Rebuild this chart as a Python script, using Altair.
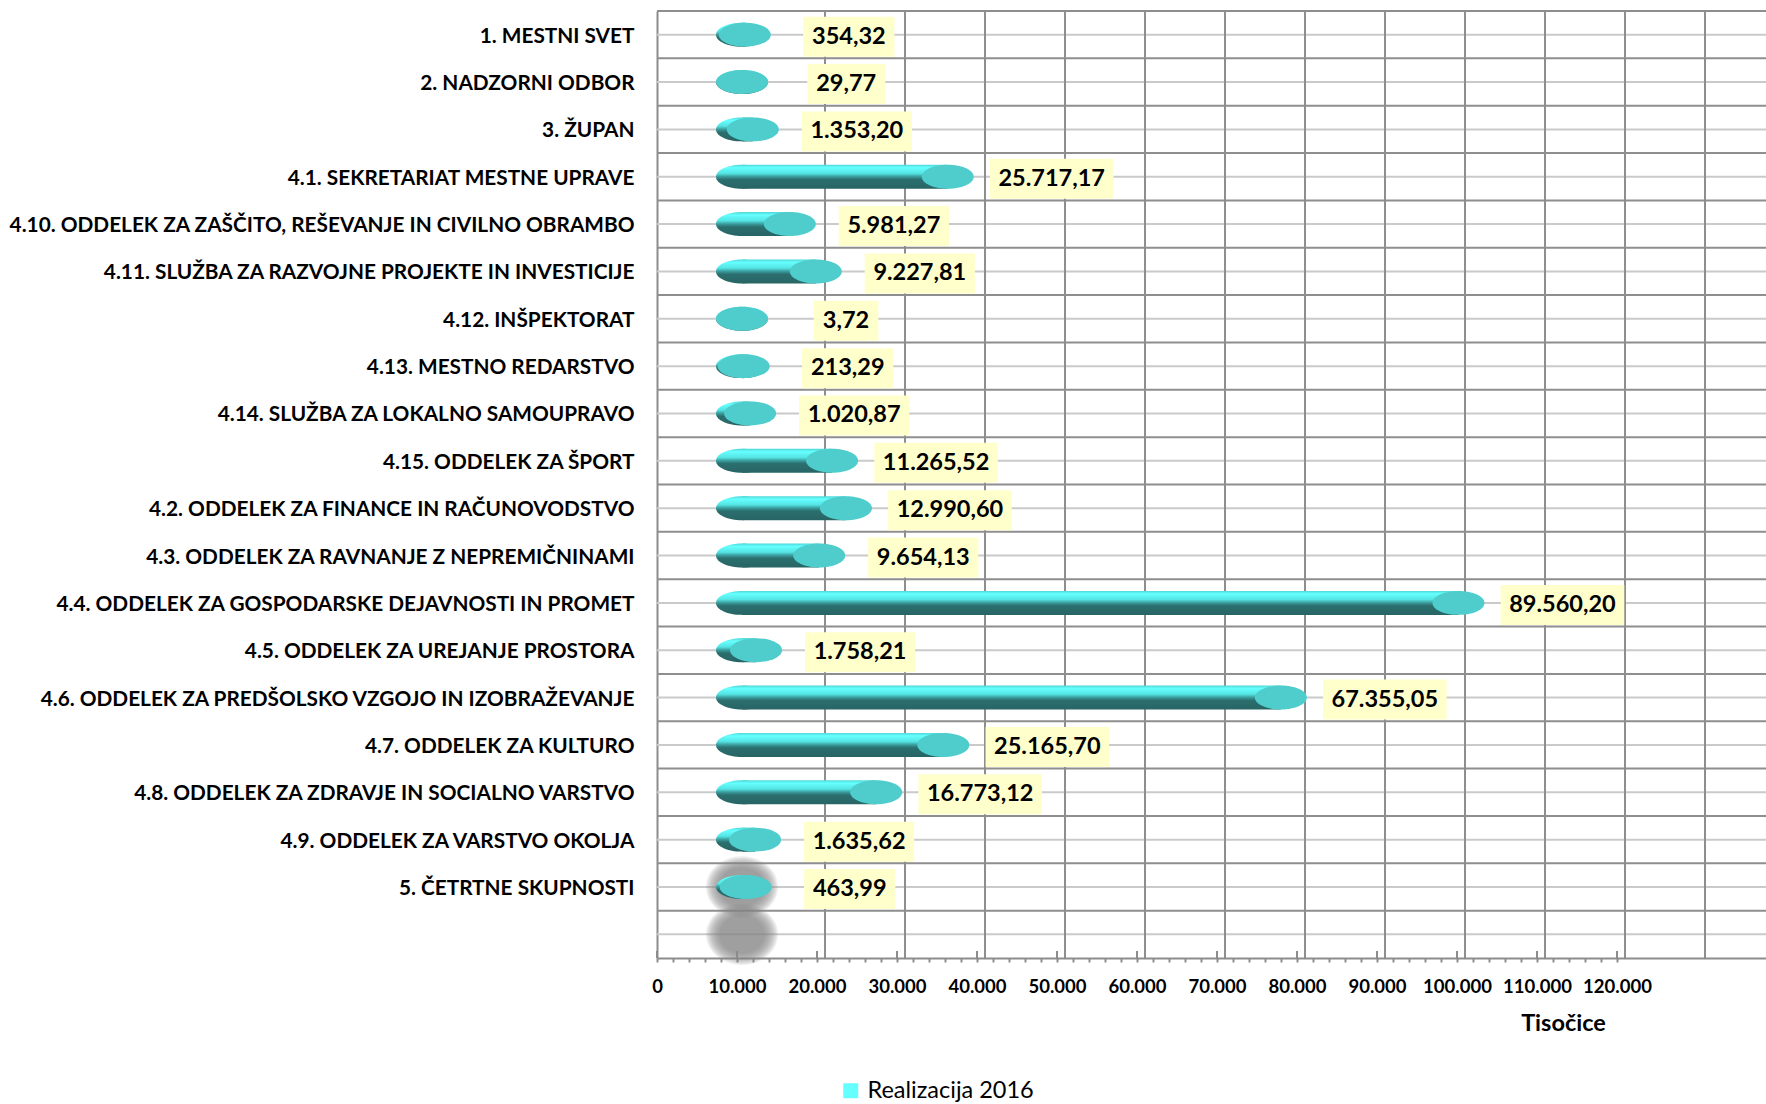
import altair as alt
import pandas as pd

# ---------------- data ----------------
categories = [
    "1. MESTNI SVET",
    "2. NADZORNI ODBOR",
    "3. ŽUPAN",
    "4.1. SEKRETARIAT MESTNE UPRAVE",
    "4.10. ODDELEK ZA ZAŠČITO, REŠEVANJE IN CIVILNO OBRAMBO",
    "4.11. SLUŽBA ZA RAZVOJNE PROJEKTE IN INVESTICIJE",
    "4.12. INŠPEKTORAT",
    "4.13. MESTNO REDARSTVO",
    "4.14. SLUŽBA ZA LOKALNO SAMOUPRAVO",
    "4.15. ODDELEK ZA ŠPORT",
    "4.2. ODDELEK ZA FINANCE IN RAČUNOVODSTVO",
    "4.3. ODDELEK ZA RAVNANJE Z NEPREMIČNINAMI",
    "4.4. ODDELEK ZA GOSPODARSKE DEJAVNOSTI IN PROMET",
    "4.5. ODDELEK ZA UREJANJE PROSTORA",
    "4.6. ODDELEK ZA PREDŠOLSKO VZGOJO IN IZOBRAŽEVANJE",
    "4.7. ODDELEK ZA KULTURO",
    "4.8. ODDELEK ZA ZDRAVJE IN SOCIALNO VARSTVO",
    "4.9. ODDELEK ZA VARSTVO OKOLJA",
    "5. ČETRTNE SKUPNOSTI ",
]
values = [
    354.32, 29.77, 1353.20, 25717.17, 5981.27, 9227.81, 3.72, 213.29,
    1020.87, 11265.52, 12990.60, 9654.13, 89560.20, 1758.21, 67355.05,
    25165.70, 16773.12, 1635.62, 463.99,
]
series_name = "Realizacija 2016"
blank_row = " "
x_ticks = list(range(0, 120001, 2000))
x_major = list(range(0, 120001, 10000))
x_grid = list(range(21000, 131001, 10000))
shadow_rows = [categories[-1], blank_row]

# ---------------- layout constants ----------------
W = 1109
ROWS = len(categories) + 1
BAND = 47.35
H = ROWS * BAND
DMAX = 138625
UPP = DMAX / W          # data units per pixel
ZERO_OFF = 85           # 3D depth shift of the cylinders (px)
LABEL_OFF = 104         # label centre after the cylinder end (px)


def slo(v):
    s = f"{v:,.2f}"
    return s.replace(",", "X").replace(".", ",").replace("X", ".")


df = pd.DataFrame({"cat": categories, "value": values,
                   "label": [slo(v) for v in values]})
rows_df = pd.DataFrame({"cat": categories + [blank_row]})
grid_df = pd.DataFrame({"gx": x_grid})
major_df = pd.DataFrame({"tx": x_major})
shadow_df = pd.DataFrame({"cat": shadow_rows, "zero": [0] * len(shadow_rows)})
legend_df = pd.DataFrame({"series": [series_name]})

yscale = alt.Scale(type="band", domain=categories + [blank_row],
                   paddingInner=0, paddingOuter=0)
xscale = alt.Scale(domain=[0, DMAX], nice=False, zero=False)

xaxis = alt.Axis(
    values=x_ticks,
    labelExpr="datum.value % 10000 === 0 ? replace(format(datum.value, ','), ',', '.') : ''",
    tickSize=4, tickColor="#8C8C8C", tickWidth=2,
    domainColor="#8C8C8C", domainWidth=2, grid=False,
    labelFont="Lato", labelFontWeight="bold", labelFontSize=18.5,
    labelColor="black", labelPadding=15, labelFlush=False, labelOverlap=False,
    title="Tisočice", titleFont="Lato", titleFontWeight="bold",
    titleFontSize=23.5, titleColor="black", titleX=906, titleY=65,
    titleAlign="center", titleBaseline="middle",
)
yaxis = alt.Axis(
    title=None, ticks=False, domainColor="#8C8C8C", domainWidth=2,
    labelFont="Lato", labelFontWeight="bold", labelFontSize=20.8,
    labelColor="black", labelPadding=23, labelLimit=900, labelOffset=2,
    grid=False,
)


def X(field):
    return alt.X(field, type="quantitative", scale=xscale, axis=xaxis)


def Y():
    return alt.Y("cat:N", scale=yscale, axis=yaxis, sort=None)


body_grad = alt.LinearGradient(
    gradient="linear", x1=0, x2=0, y1=0, y2=1,
    stops=[
        alt.GradientStop(color="#4FD6D6", offset=0),
        alt.GradientStop(color="#66FFFF", offset=0.12),
        alt.GradientStop(color="#55E4E4", offset=0.36),
        alt.GradientStop(color="#3A9A9A", offset=0.5),
        alt.GradientStop(color="#2B6E6E", offset=0.62),
        alt.GradientStop(color="#286565", offset=1),
    ],
)

ELLIPSE = "M-1,0A1,0.46,0,1,1,1,0A1,0.46,0,1,1,-1,0Z"
SHADOW = "M-1,0A1,0.85,0,1,1,1,0A1,0.85,0,1,1,-1,0Z"
CAP = 52 * 52

# ---------------- layers ----------------
light_lines = alt.Chart(rows_df).mark_rule(color="#CACACA", strokeWidth=2).encode(y=Y())
dark_lines = alt.Chart(rows_df).mark_rule(
    color="#8E8E8E", strokeWidth=2, yOffset=-BAND / 2).encode(y=Y())
vgrid = alt.Chart(grid_df).mark_rule(color="#8E8E8E", strokeWidth=2).encode(x=X("gx"))

# soft grey shadow below the last cylinder (many faint layers = blur)
shadow_layers = []
for sz in range(72, 44, -3):
    shadow_layers.append(
        alt.Chart(shadow_df).mark_point(
            shape=SHADOW, size=sz * sz, filled=True, color="#8A8A8A",
            opacity=0.14, strokeWidth=0, xOffset=ZERO_OFF,
        ).encode(x=X("zero"), y=Y())
    )

left_caps = alt.Chart(df).transform_calculate(zero="0").mark_point(
    shape=ELLIPSE, size=CAP, filled=True, fill=body_grad, opacity=1,
    strokeWidth=0, xOffset=ZERO_OFF,
).encode(x=X("zero"), y=Y())

bodies = alt.Chart(df).mark_bar(
    size=24, fill=body_grad, xOffset=ZERO_OFF, x2Offset=ZERO_OFF,
).encode(x=X("value"), y=Y())

right_caps = alt.Chart(df).mark_point(
    shape=ELLIPSE, size=CAP, filled=True, color="#4FCDCD", opacity=1,
    strokeWidth=0, xOffset=ZERO_OFF,
).encode(x=X("value"), y=Y())

boxes = alt.Chart(df).transform_calculate(
    nd="length(replace(datum.label, regexp('[^0-9]', 'g'), ''))",
).transform_calculate(
    npn="length(datum.label) - datum.nd",
).transform_calculate(
    w="datum.nd * 13.34 + datum.npn * 5.6 + 19",
).transform_calculate(
    bx1=f"datum.value + ({ZERO_OFF + LABEL_OFF} - datum.w / 2) * {UPP}",
    bx2=f"datum.value + ({ZERO_OFF + LABEL_OFF} + datum.w / 2) * {UPP}",
).mark_bar(size=40, color="#FFFFCC", yOffset=2).encode(
    x=X("bx1"), x2="bx2", y=Y())

texts = alt.Chart(df).mark_text(
    font="Lato", fontWeight="bold", fontSize=23.5, color="black",
    align="center", baseline="middle", xOffset=ZERO_OFF + LABEL_OFF, yOffset=2,
).encode(x=X("value"), y=Y(), text="label:N")

major_up = alt.Chart(major_df).mark_rule(color="#8C8C8C", strokeWidth=2).encode(
    x=X("tx"), y=alt.value(H - 7), y2=alt.value(H))

legend_layer = alt.Chart(legend_df).mark_square(opacity=0, size=1).encode(
    color=alt.Color(
        "series:N",
        scale=alt.Scale(domain=[series_name], range=["#66FFFF"]),
        legend=alt.Legend(
            orient="none", legendX=182, legendY=1068, direction="horizontal",
            title=None, symbolType="square", symbolSize=225,
            symbolStrokeWidth=0, symbolOpacity=1, labelFont="Lato",
            labelFontSize=23.5, labelColor="black", labelOffset=5, padding=0,
            labelLimit=500,
        ),
    )
)

chart = alt.layer(
    light_lines, dark_lines, vgrid, *shadow_layers, left_caps, bodies,
    right_caps, boxes, texts, major_up, legend_layer,
).properties(
    width=W, height=H,
    autosize=alt.AutoSizeParams(type="none"),
    padding={"left": 657, "top": 11, "right": 0, "bottom": 1104 - 11 - H},
    background="white",
).configure_view(strokeWidth=0)

chart.save("out.html", embed_options={"renderer": "svg", "actions": False})
